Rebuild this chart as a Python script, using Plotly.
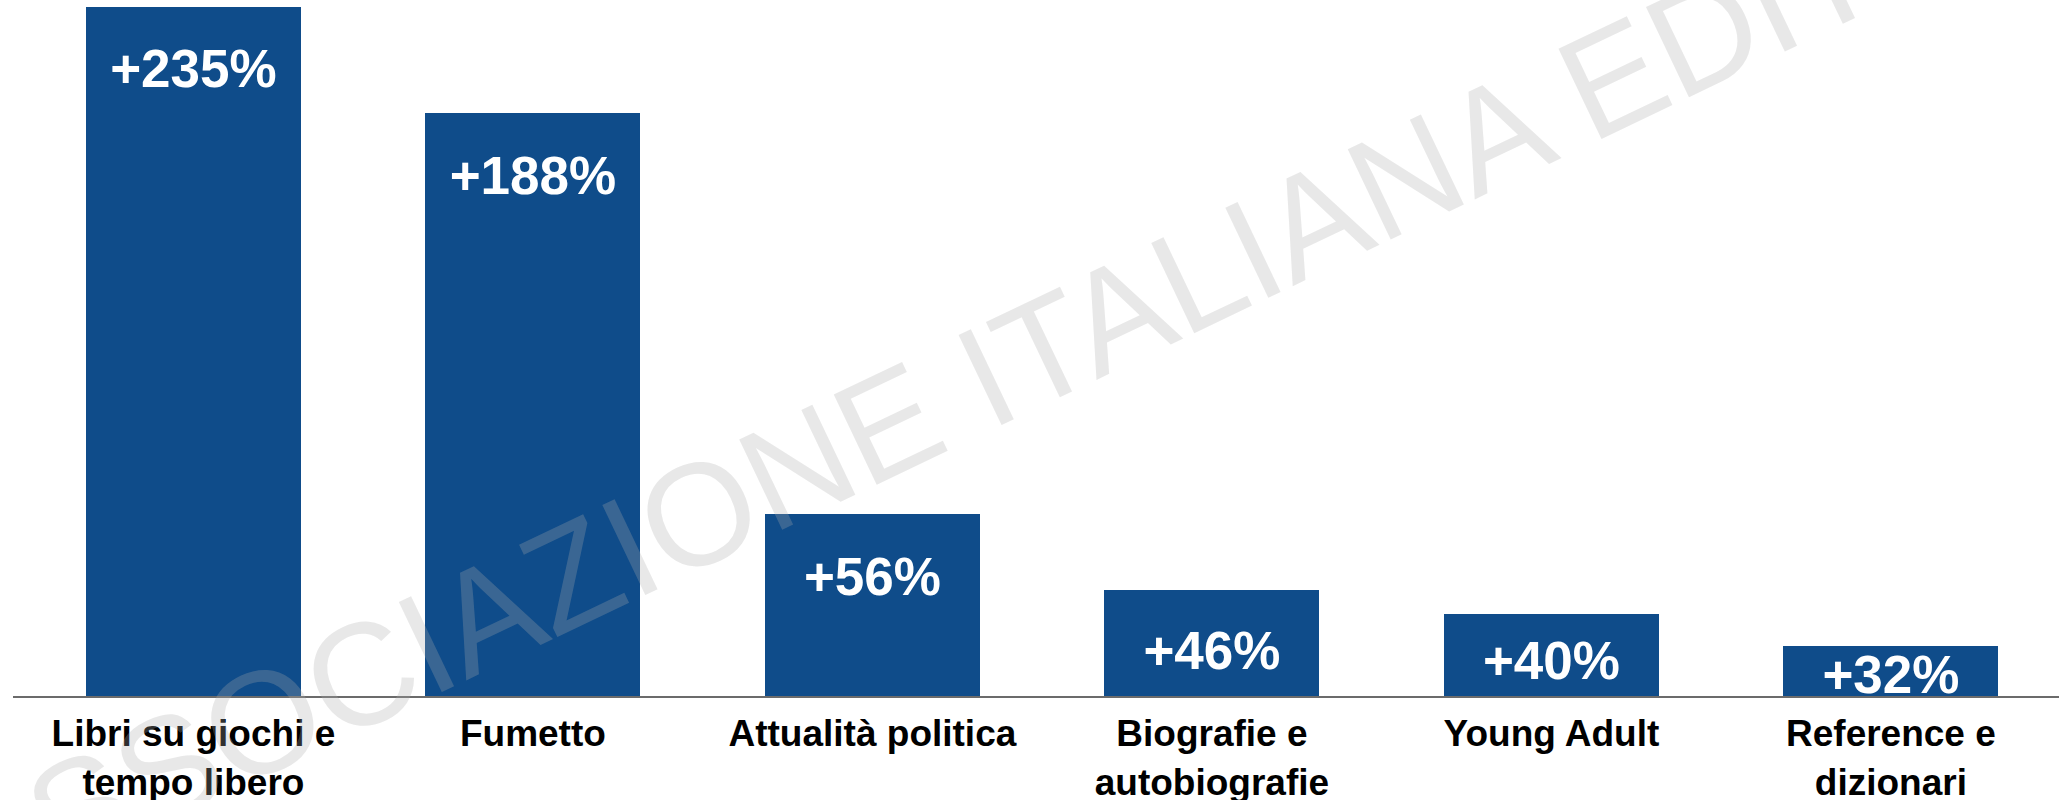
import plotly.graph_objects as go

# ---- data -------------------------------------------------------------
categories = [
    "Libri su giochi e tempo libero",
    "Fumetto",
    "Attualità politica",
    "Biografie e autobiografie",
    "Young Adult",
    "Reference e dizionari",
]
tick_labels = [
    "Libri su giochi e<br>tempo libero",
    "Fumetto",
    "Attualità politica",
    "Biografie e<br>autobiografie",
    "Young Adult",
    "Reference e<br>dizionari",
]
# growth printed on the bars (%)
growth_pct = [235, 188, 56, 46, 40, 32]
# bar heights as drawn in the source chart (not to scale with the printed
# labels), expressed in the units of the first bar
bar_heights = [235, 198.8, 61.9, 36.0, 28.0, 16.9]

watermark = "ASSOCIAZIONE ITALIANA EDITORI"

# ---- styling ----------------------------------------------------------
BAR_COLOR = "#0F4C8A"
FONT = "Arial, Liberation Sans, sans-serif"
W, H = 2059, 800

label_text = [f"+{v}%" for v in growth_pct]
# label sits a fixed distance below the bar top, or lower inside short bars
label_y = [max(h - 23, 0.42 * h - 1.5) for h in bar_heights]

fig = go.Figure()
fig.add_trace(go.Bar(
    x=categories,
    y=bar_heights,
    width=0.633,
    marker=dict(color=BAR_COLOR, line=dict(width=0)),
    hoverinfo="skip",
))
fig.add_trace(go.Scatter(
    x=categories,
    y=label_y,
    mode="text",
    text=label_text,
    textposition="middle center",
    textfont=dict(family=FONT, size=53, color="white", weight="bold"),
    cliponaxis=False,
    hoverinfo="skip",
))

fig.add_annotation(
    text=watermark,
    xref="paper", yref="paper",
    x=0.4973, y=0.5513,
    xanchor="center", yanchor="middle",
    textangle=-25.5,
    showarrow=False,
    font=dict(family=FONT, size=145, color="rgba(174,174,174,0.28)"),
)

fig.update_layout(
    width=W, height=H,
    margin=dict(l=0, r=0, t=0, b=0),
    paper_bgcolor="white",
    plot_bgcolor="white",
    showlegend=False,
    bargap=0,
    xaxis=dict(
        type="category",
        domain=[13 / W, 1],
        range=[-0.5314, 5.4951],
        tickvals=categories,
        ticktext=tick_labels,
        tickfont=dict(family=FONT, size=37, color="black", weight="bold"),
        ticks="outside",
        ticklen=4,
        tickcolor="rgba(0,0,0,0)",
        automargin=False,
        showline=True,
        linecolor="#6b6b6b",
        linewidth=2,
        showgrid=False,
        zeroline=False,
    ),
    yaxis=dict(
        domain=[0.13, 1],
        range=[0, 237.25],
        visible=False,
        showgrid=False,
        zeroline=False,
    ),
)

fig.write_html(
    "out.html",
    config={"displayModeBar": False},
    post_script="document.body.style.margin='0';document.body.style.overflow='hidden';",
)
